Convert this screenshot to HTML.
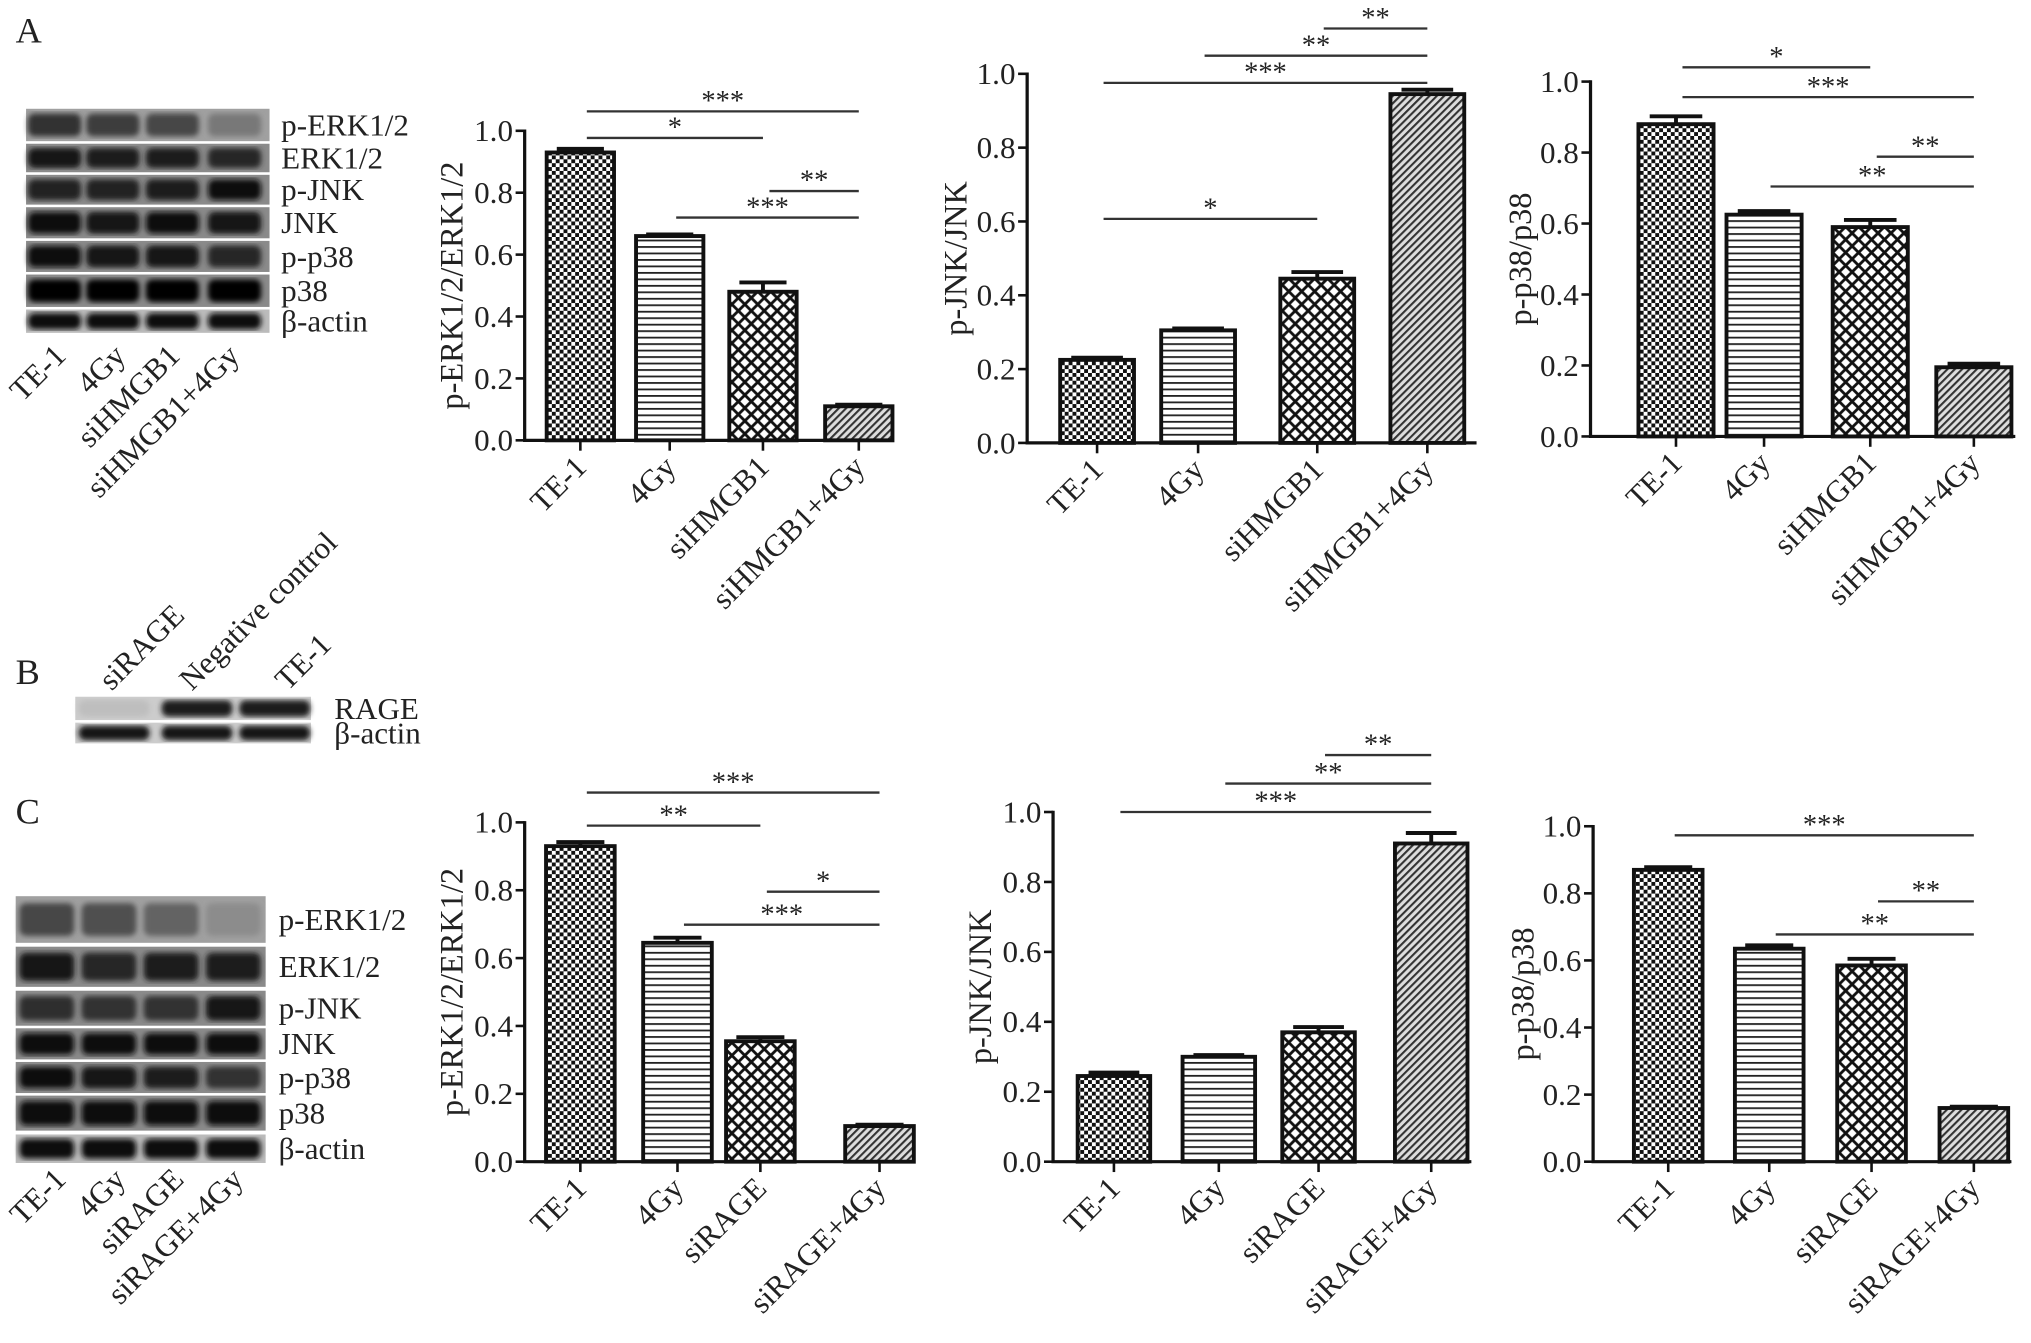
<!DOCTYPE html>
<html><head><meta charset="utf-8"><style>
html,body{margin:0;padding:0;background:#fff}
svg{display:block}
text{font-family:"Liberation Serif",serif;fill:#222}
</style></head><body>
<svg id="fig" width="2031" height="1343" viewBox="0 0 1568 1037" xmlns="http://www.w3.org/2000/svg">
<defs>
<pattern id="pChk" width="6" height="6" patternUnits="userSpaceOnUse"><rect width="6" height="6" fill="#fff"/><rect width="3" height="3" fill="#111"/><rect x="3" y="3" width="3" height="3" fill="#111"/></pattern>
<pattern id="pHor" width="6" height="5" patternUnits="userSpaceOnUse"><rect width="6" height="5" fill="#fff"/><rect width="6" height="1.4" fill="#222"/></pattern>
<pattern id="pX" width="10" height="10" patternUnits="userSpaceOnUse"><rect width="10" height="10" fill="#fff"/><path d="M0,0L10,10M10,0L0,10" stroke="#111" stroke-width="2.2"/></pattern>
<pattern id="pD" width="4" height="4" patternUnits="userSpaceOnUse" patternTransform="rotate(45)"><rect width="4" height="4" fill="#ddd"/><rect width="1.6" height="4" fill="#333"/></pattern>
<filter id="blur"><feGaussianBlur stdDeviation="2"/></filter>
</defs>
<text x="12" y="33" font-size="28">A</text>
<text x="12" y="528" font-size="28">B</text>
<text x="12" y="636" font-size="28">C</text>
<g id="blots"></g>
<g id="charts"></g>
</svg>
<script>
// ---- chart data ----
const catsA = ["TE-1","4Gy","siHMGB1","siHMGB1+4Gy"];
const catsC = ["TE-1","4Gy","siRAGE","siRAGE+4Gy"];
const valsA1 = [0.93,0.66,0.48,0.11];
const errsA1 = [0.012,0.005,0.03,0.005];
const valsA2 = [0.225,0.305,0.445,0.945];
const errsA2 = [0.006,0.005,0.018,0.012];
const valsA3 = [0.88,0.625,0.59,0.195];
const errsA3 = [0.022,0.01,0.02,0.01];
const valsC1 = [0.93,0.645,0.355,0.105];
const errsC1 = [0.012,0.015,0.012,0.004];
const valsC2 = [0.245,0.30,0.37,0.91];
const errsC2 = [0.01,0.005,0.015,0.03];
const valsC3 = [0.87,0.635,0.585,0.16];
const errsC3 = [0.008,0.01,0.02,0.004];
const yTicks = [0,0.2,0.4,0.6,0.8,1.0];
const yTickLabels = ["0.0","0.2","0.4","0.6","0.8","1.0"];
// significance: [fromIndex,toIndex,label,level]
const sigA1 = [[0,3,"***",0],[0,2,"*",1],[2,3,"**",3],[1,3,"***",4]];
const sigA2 = [[2,3,"**",0],[1,3,"**",1],[0,3,"***",2],[0,2,"*",7]];
const sigA3 = [[0,2,"*",0],[0,3,"***",1],[2,3,"**",3],[1,3,"**",4]];
const sigC1 = [[0,3,"***",0],[0,2,"**",1],[2,3,"*",3],[1,3,"***",4]];
const sigC2 = [[2,3,"**",0],[1,3,"**",1],[0,3,"***",2]];
const sigC3 = [[0,3,"***",0],[2,3,"**",2],[1,3,"**",3]];

const NS="http://www.w3.org/2000/svg";
function mk(tag,attrs,parent){const e=document.createElementNS(NS,tag);for(const k in attrs)e.setAttribute(k,attrs[k]);parent.appendChild(e);return e;}
const fills=["url(#pChk)","url(#pHor)","url(#pX)","url(#pD)"];

function chart(cfg){
  const g=mk('g',{},document.getElementById('charts'));
  
  
  const yS=v=>cfg.y0-(cfg.y0-cfg.y1)*v;
  const xS=i=>cfg.centers[i];
  cfg.vals.forEach((v,i)=>{
    const r=mk('rect',{x:xS(i)-cfg.bw/2,y:yS(v),width:cfg.bw,height:cfg.y0-yS(v),fill:fills[i],stroke:'#111','stroke-width':3},g);
    
    
    const e=cfg.errs[i];
    const eb=mk('path',{d:`M${xS(i)},${yS(v)}V${yS(v+e)}M${xS(i)-cfg.bw*0.35},${yS(v+e)}H${xS(i)+cfg.bw*0.35}`,stroke:'#111','stroke-width':3,fill:'none'},g);
    
    
  });
  const ax=mk('path',{d:`M${cfg.ax},${cfg.y1-1}V${cfg.y0}H${cfg.xEnd}`,stroke:'#111','stroke-width':2.5,fill:'none'},g);
  
  
  yTicks.forEach((t,i)=>{
    mk('path',{d:`M${cfg.ax-7},${yS(t)}H${cfg.ax}`,stroke:'#111','stroke-width':2},g);
    const tl=mk('text',{x:cfg.ax-9,y:yS(t)+8,'font-size':24,'text-anchor':'end'},g);
    tl.textContent=yTickLabels[i];
    
    
  });
  cfg.cats.forEach((c,i)=>{
    mk('path',{d:`M${xS(i)},${cfg.y0}V${cfg.y0+8}`,stroke:'#111','stroke-width':2},g);
    const tx=xS(i)+6, ty=cfg.y0+22;
    const l=mk('text',{x:tx,y:ty,'font-size':24,'text-anchor':'end',transform:`rotate(-45 ${tx} ${ty})`},g);
    l.textContent=c;
    
    
  });
  const yl=mk('text',{x:cfg.ylx,y:(cfg.y0+cfg.y1)/2,'font-size':25,'text-anchor':'middle',transform:`rotate(-90 ${cfg.ylx} ${(cfg.y0+cfg.y1)/2})`},g);
  yl.textContent=cfg.ylabel;
  
  
  cfg.sig.forEach(s=>{
    const y=cfg.sigTop+s[3]*cfg.sigStep;
    const x1=xS(s[0])+5,x2=xS(s[1]);
    const ln=mk('path',{d:`M${x1},${y}H${x2}`,stroke:'#333','stroke-width':1.8},g);
    
    
    const st=mk('text',{x:(x1+x2)/2,y:y-1,'font-size':22,'text-anchor':'middle',fill:'#444'},g);
    st.textContent=s[2];
    
    
  });
}
chart({name:'chart-a-perk',cats:catsA,vals:valsA1,errs:errsA1,ax:405,xEnd:690,y0:340,y1:101,centers:[448,517,589,663],bw:52,ylabel:'p-ERK1/2/ERK1/2',ylx:357,sig:sigA1,sigTop:86,sigStep:20.5});
chart({name:'chart-a-pjnk',cats:catsA,vals:valsA2,errs:errsA2,ax:793,xEnd:1140,y0:342,y1:57,centers:[847,925,1017,1102],bw:57,ylabel:'p-JNK/JNK',ylx:746,sig:sigA2,sigTop:22,sigStep:21});
chart({name:'chart-a-pp38',cats:catsA,vals:valsA3,errs:errsA3,ax:1228,xEnd:1556,y0:337,y1:63,centers:[1294,1362,1444,1524],bw:58,ylabel:'p-p38/p38',ylx:1182,sig:sigA3,sigTop:52,sigStep:23});
chart({name:'chart-c-perk',cats:catsC,vals:valsC1,errs:errsC1,ax:405,xEnd:692,y0:897,y1:635,centers:[448,523,587,679],bw:53,ylabel:'p-ERK1/2/ERK1/2',ylx:357,sig:sigC1,sigTop:612,sigStep:25.5});
chart({name:'chart-c-pjnk',cats:catsC,vals:valsC2,errs:errsC2,ax:813,xEnd:1136,y0:897,y1:627,centers:[860,941,1018,1105],bw:56,ylabel:'p-JNK/JNK',ylx:765,sig:sigC2,sigTop:583,sigStep:22});
chart({name:'chart-c-pp38',cats:catsC,vals:valsC3,errs:errsC3,ax:1230,xEnd:1553,y0:897,y1:638,centers:[1288,1366,1445,1524],bw:53,ylabel:'p-p38/p38',ylx:1184,sig:sigC3,sigTop:645,sigStep:25.5});

// ---- western blots ----
function blot(name,x,w,rows,lanes,labX){
  const g=mk('g',{},document.getElementById('blots'));
  
  
  rows.forEach(r=>{
    mk('rect',{x:x,y:r.y,width:w,height:r.h,fill:r.bg||'#8a8a8a'},g);
    lanes.forEach((lx,i)=>{
      const d=r.d[i];
      mk('rect',{x:lx-w/lanes.length/2+3,y:r.y+r.h*0.15,width:w/lanes.length-6,height:r.h*0.7,rx:5,fill:`rgb(${d},${d},${d})`,filter:'url(#blur)'},g);
    });
    const t=mk('text',{x:labX,y:r.y+r.h/2+8,'font-size':24},g);
    t.textContent=r.label;
    
    
  });
  return g;
}
blot('blot-a',20,188,[
 {y:84,h:25,label:'p-ERK1/2',d:[50,60,70,120],bg:'#a0a0a0'},
 {y:111,h:22,label:'ERK1/2',d:[25,30,30,40]},
 {y:135,h:23,label:'p-JNK',d:[35,35,30,15]},
 {y:160,h:24,label:'JNK',d:[15,20,15,20]},
 {y:186,h:24,label:'p-p38',d:[10,25,20,40]},
 {y:212,h:25,label:'p38',d:[5,5,5,5]},
 {y:239,h:18,label:'β-actin',d:[10,10,10,10],bg:'#bbb'}
],[42,87,133,181],217);
blot('blot-b',58,182,[
 {y:538,h:18,label:'RAGE',d:[190,30,30],bg:'#ccc'},
 {y:558,h:16,label:'β-actin',d:[20,20,20],bg:'#ccc'}
],[88,152,212],258);
blot('blot-c',12,193,[
 {y:692,h:36,label:'p-ERK1/2',d:[70,80,100,140],bg:'#a0a0a0'},
 {y:731,h:31,label:'ERK1/2',d:[20,40,30,30]},
 {y:765,h:27,label:'p-JNK',d:[45,50,50,20]},
 {y:794,h:24,label:'JNK',d:[15,15,15,15]},
 {y:820,h:24,label:'p-p38',d:[10,20,30,50]},
 {y:846,h:27,label:'p38',d:[8,8,8,8]},
 {y:876,h:22,label:'β-actin',d:[10,10,10,10],bg:'#bbb'}
],[36,84,132,180],215);
function rotLabels(list,baseY){
  const g=document.getElementById('blots');
  list.forEach(([txt,x])=>{
    const t=mk('text',{x:x,y:baseY,'font-size':24,'text-anchor':'end',transform:`rotate(-45 ${x} ${baseY})`},g);
    t.textContent=txt;
    
    
  });
}
rotLabels([['TE-1',52],['4Gy',98],['siHMGB1',140],['siHMGB1+4Gy',186]],276);
rotLabels([['TE-1',52],['4Gy',98],['siRAGE',143],['siRAGE+4Gy',189]],912);
function rotUp(list,baseY){
  const g=document.getElementById('blots');
  list.forEach(([txt,x])=>{
    const t=mk('text',{x:x,y:baseY,'font-size':24,'text-anchor':'start',transform:`rotate(-45 ${x} ${baseY})`},g);
    t.textContent=txt;
    
    
  });
}
rotUp([['siRAGE',86],['Negative control',148],['TE-1',222]],534);
</script>
</body></html>
